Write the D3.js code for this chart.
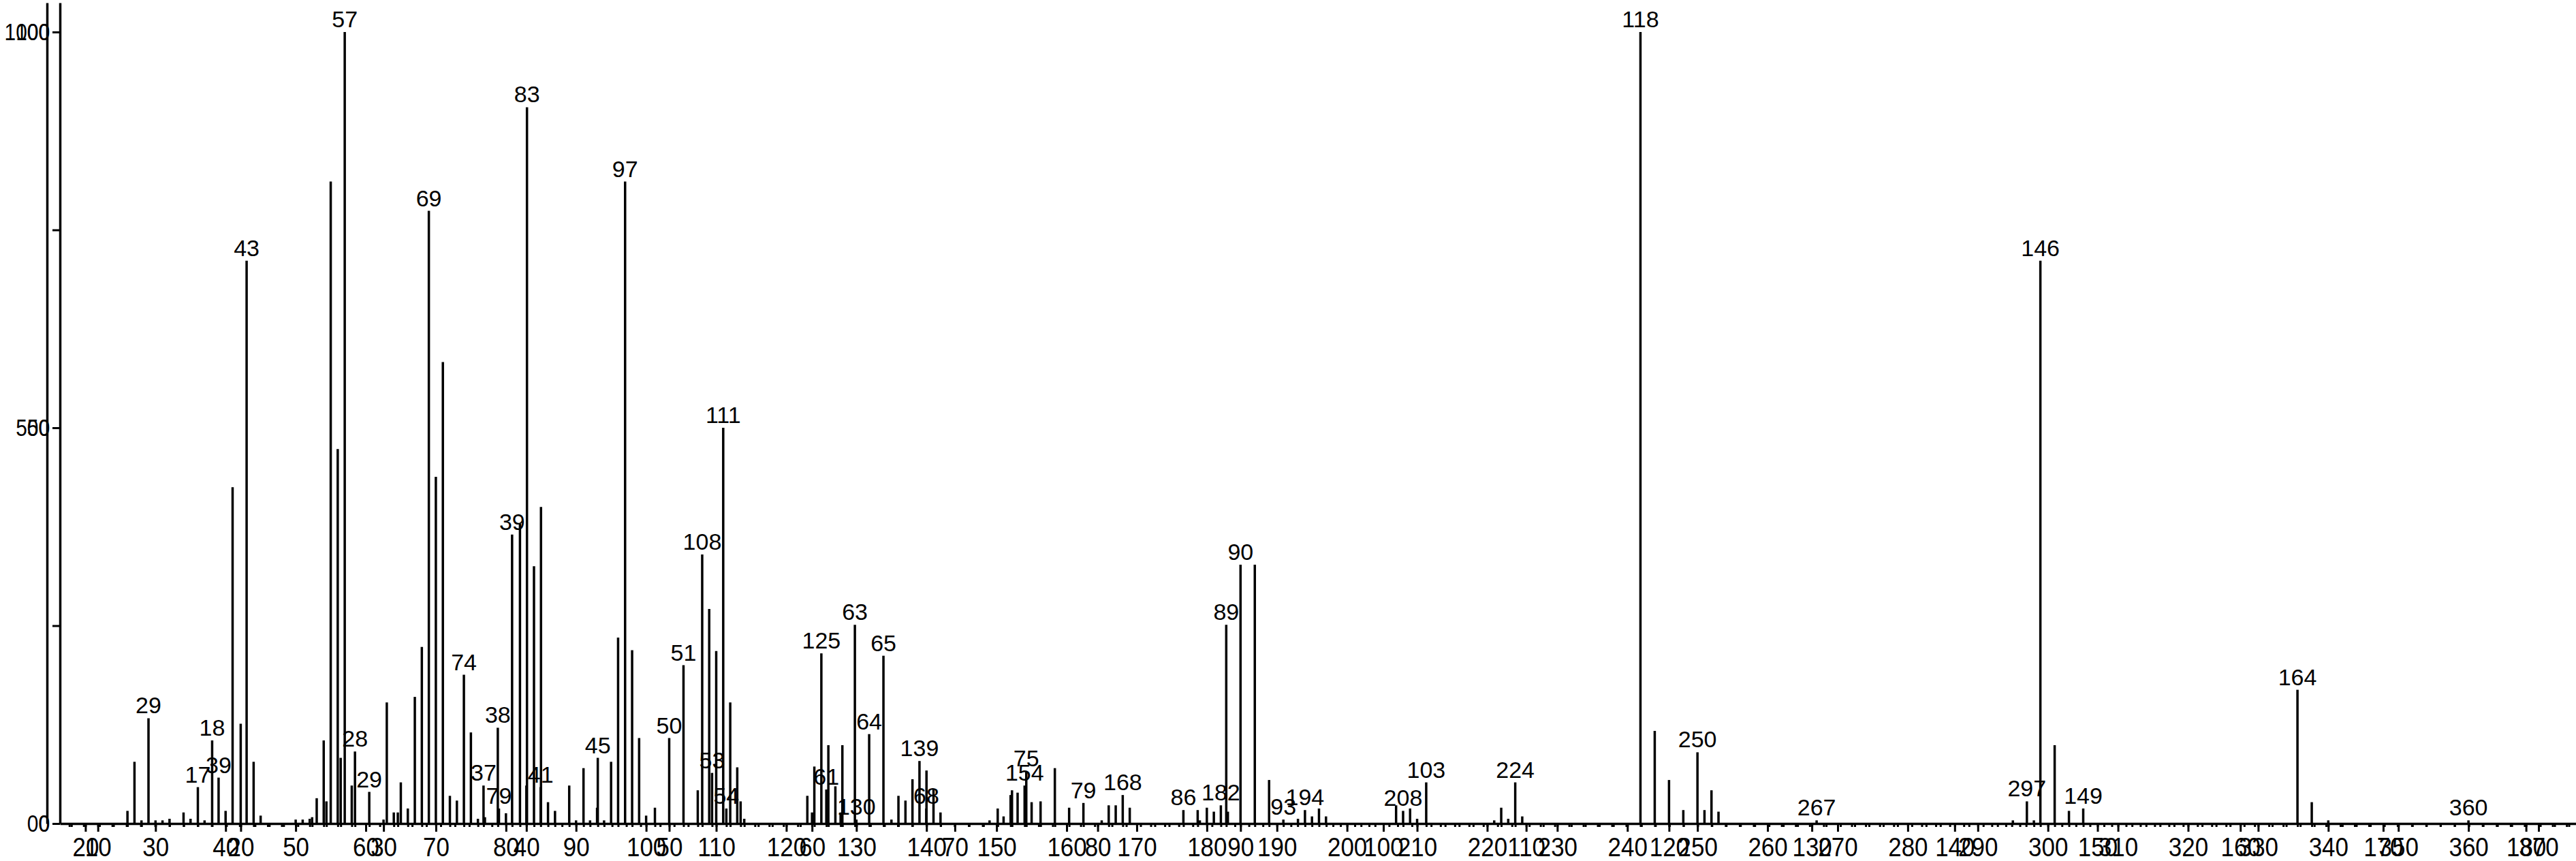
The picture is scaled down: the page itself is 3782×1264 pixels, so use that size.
<!DOCTYPE html>
<html>
<head>
<meta charset="utf-8">
<script src="https://cdn.jsdelivr.net/npm/d3@7"></script>
<style>
  body { margin: 0; background: #fff; }
  text { font-family: "Liberation Sans", Arial, sans-serif; fill: #000; }
</style>
</head>
<body>
<div id="chart"></div>
<script>
const specA = [
  [26, 16], [27, 78], [28, 4], [29, 133], [30, 4], [31, 4], [32, 6], [34, 14], [35, 6], [37, 4],
  [39, 58], [40, 16], [41, 425], [43, 711], [44, 78], [45, 10], [50, 5], [51, 5], [52, 6], [53, 32],
  [54, 105], [55, 811], [56, 473], [57, 1000], [58, 48], [63, 153], [64, 14], [65, 52], [66, 19],
  [67, 160], [68, 223], [69, 774], [70, 438], [71, 583], [72, 35], [73, 29], [74, 188], [75, 115],
  [76, 6], [77, 8], [79, 19], [80, 13], [82, 379], [83, 905], [84, 325], [85, 400], [86, 27], [87, 16],
  [90, 4], [92, 4], [93, 20], [94, 4], [95, 78], [96, 235], [97, 811], [98, 219], [99, 108], [100, 10],
  [108, 340], [109, 271], [110, 218], [111, 500], [112, 153], [113, 71], [114, 6], [123, 35], [124, 72],
  [125, 215], [126, 99], [127, 47], [128, 99], [130, 5], [135, 5], [136, 35], [137, 29], [138, 56],
  [139, 79], [140, 67], [141, 43], [142, 14], [149, 4], [151, 9], [152, 36], [153, 39], [154, 48],
  [155, 27], [165, 4], [166, 23], [167, 23], [168, 36], [169, 20], [179, 4], [180, 20], [181, 15],
  [182, 23], [183, 15], [193, 6], [194, 17], [195, 9], [196, 19], [197, 9], [207, 23], [208, 16],
  [209, 19], [210, 6], [221, 4], [222, 20], [223, 6], [224, 52], [225, 9], [250, 90], [251, 17],
  [252, 42], [253, 15], [267, 4], [295, 4], [297, 28], [298, 4], [340, 4], [360, 4]
];
const labelsA = [29, 39, 43, 57, 69, 74, 79, 83, 97, 108, 111, 125, 130, 139, 154, 168, 182, 194, 208, 224, 250, 267, 297, 360];

const specB = [
  [17, 4.6], [18, 10.5], [20, 12.6], [25, 0.8], [26, 2.8], [27, 8.3], [28, 9.1], [29, 4.0], [30, 0.5],
  [31, 1.4], [37, 4.8], [38, 12.1], [39, 36.5], [40, 4.8], [41, 4.6], [43, 4.8], [44, 7.0], [45, 8.3],
  [49, 2.0], [50, 10.8], [51, 20.0], [52, 4.2], [53, 6.4], [54, 1.9], [55, 2.8], [60, 1.4], [61, 4.3],
  [62, 1.4], [63, 25.1], [64, 11.3], [65, 21.2], [68, 1.9], [73, 1.9], [74, 4.2], [75, 6.6], [76, 2.8],
  [77, 7.0], [78, 2.0], [79, 2.6], [86, 1.7], [87, 1.7], [89, 25.1], [90, 32.7], [91, 32.7], [92, 5.5],
  [93, 0.5], [103, 5.2], [118, 100], [119, 11.7], [120, 5.5], [121, 1.7], [146, 71.1], [147, 9.9],
  [148, 1.6], [149, 1.9], [164, 16.9], [165, 2.7]
];
const labelsB = [17, 18, 28, 29, 37, 38, 39, 41, 45, 50, 51, 53, 54, 61, 63, 64, 65, 68, 75, 79, 86, 89, 90, 93, 103, 118, 146, 149, 164];

// tick values and y tick texts
const yTicksA = [0, 250, 500, 750, 1000];
const yLabelsA = [0, 500, 1000];
const yLabelsB = [0, 50, 100];
const yTextB = ['00', '50', '100'];
const xMajorA = d3.range(20, 371, 10);
const xMinorA = d3.range(18, 376, 2);
const xMajorB = d3.range(10, 181, 10);
const xMinorB = d3.range(8, 184, 1);

const width = 3782, height = 1264;
const left = 88, right = 3782, baseY = 1209, topY = 4;

const svg = d3.select('#chart')
    .append('svg')
    .attr('width', width)
    .attr('height', height);

// x scales calibrated on the two tick sets, stretched to the plot edges
const xA0 = d3.scaleLinear().domain([20, 370]).range([125.4, 3727]);
const xA = xA0.copy().domain([xA0.invert(left), xA0.invert(right)]).range([left, right]);
const xB0 = d3.scaleLinear().domain([10, 180]).range([143.7, 3708.6]);
const xB = xB0.copy().domain([xB0.invert(left), xB0.invert(right)]).range([left, right]);

const yA = d3.scaleLinear().domain([0, 1037]).range([baseY, topY]);
const yB = d3.scaleLinear().domain([0, 103.7]).range([baseY, topY]);

// peaks
function drawPeaks(data, x, y) {
    svg.append('g').selectAll('line')
        .data(data)
        .enter()
        .append('line')
        .attr('x1', d => x(d[0]))
        .attr('x2', d => x(d[0]))
        .attr('y1', y(0))
        .attr('y2', d => y(d[1]))
        .attr('stroke', 'black')
        .attr('stroke-width', 3.5);
}
drawPeaks(specA, xA, yA);
drawPeaks(specB, xB, yB);

// peak labels
function drawLabels(data, labels, x, y) {
    svg.append('g').selectAll('text')
        .data(data.filter(d => labels.includes(d[0])))
        .enter()
        .append('text')
        .attr('x', d => x(d[0]))
        .attr('y', d => y(d[1]) - 7)
        .attr('text-anchor', 'middle')
        .attr('font-size', 34)
        .text(d => d[0]);
}
drawLabels(specA, labelsA, xA, yA);
drawLabels(specB, labelsB, xB, yB);

// narrow the axis digits a little, keeping their anchor point
function condense(sel, k) {
    sel.each(function() {
        const t = d3.select(this);
        t.attr('x', (+t.attr('x') || 0) / k).attr('transform', `scale(${k},1)`);
    });
}

// x axes: minor ticks, then major ticks with labels
function xAxis(x, major, minor, showDomain) {
    const inRange = v => x(v) >= left && x(v) <= right;
    const gMinor = svg.append('g')
        .attr('transform', `translate(0,${baseY})`)
        .call(d3.axisBottom(x).tickValues(minor.filter(inRange)).tickSize(5).tickSizeOuter(0).tickFormat(''));
    gMinor.select('.domain').remove();
    gMinor.selectAll('line').attr('stroke-width', 3);
    const g = svg.append('g')
        .attr('transform', `translate(0,${baseY})`)
        .call(d3.axisBottom(x).tickValues(major.filter(inRange)).tickSize(12).tickPadding(9).tickSizeOuter(0));
    g.selectAll('.tick text').attr('font-size', 38).attr('font-family', null).call(condense, 0.92);
    g.selectAll('line').attr('stroke-width', 3);
    if (!showDomain) g.select('.domain').remove();
    else g.select('.domain').attr('stroke-width', 3.5);
}
xAxis(xB, xMajorB, xMinorB, false);
xAxis(xA, xMajorA, xMinorA, true);

// y axis for spectrum B (line at the far left, labels only)
const gyB = svg.append('g')
    .attr('transform', 'translate(69,0)')
    .call(d3.axisLeft(yB).tickValues(yLabelsB).tickSize(0).tickPadding(-4).tickSizeOuter(0)
        .tickFormat((d, i) => yTextB[i]));
gyB.selectAll('.tick text').attr('font-size', 36).attr('font-family', null).attr('text-anchor', 'end')
    .call(condense, 0.83);
gyB.select('.domain').attr('stroke-width', 3.5);

// y axis for spectrum A
const gyA = svg.append('g')
    .attr('transform', `translate(${left},0)`)
    .call(d3.axisLeft(yA).tickValues(yTicksA).tickSize(11).tickPadding(4).tickSizeOuter(0)
        .tickFormat(d => yLabelsA.includes(d) ? d : ''));
gyA.selectAll('.tick text').attr('font-size', 36).attr('font-family', null).call(condense, 0.83);
gyA.selectAll('line').attr('stroke-width', 3);
gyA.select('.domain').attr('stroke-width', 3.5);
</script>
</body>
</html>
